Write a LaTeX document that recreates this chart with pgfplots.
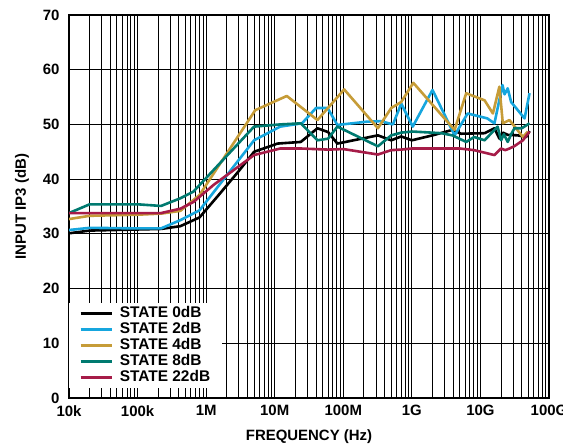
\documentclass[border=0pt]{standalone}
\usepackage{pgfplots}
\pgfplotsset{compat=1.18}
\usepackage{fontspec}
\setmainfont{Liberation Sans}
\definecolor{cblue}{RGB}{22,166,222}
\definecolor{cgold}{RGB}{198,156,56}
\definecolor{cteal}{RGB}{0,122,112}
\definecolor{cmag}{RGB}{166,28,72}
\begin{document}
\begin{tikzpicture}
\begin{axis}[
  scale only axis, width=480bp, height=383bp,
  xmode=log, xmin=1e4, xmax=1e11, ymin=0, ymax=70,
  ytick={0,10,...,70},
  xtick={1e4,1e5,1e6,1e7,1e8,1e9,1e10,1e11},
  xticklabels={10k,100k,1M,10M,100M,1G,10G,100G},
  /pgf/number format/assume math mode=true,
  tick label style={font=\fontsize{15}{17}\selectfont\bfseries},
  label style={font=\fontsize{15}{17}\selectfont\bfseries},
  yticklabel style={xshift=-6bp},
  xticklabel style={yshift=-4bp},
  xlabel={FREQUENCY (Hz)}, ylabel={INPUT IP3 (dB)},
  xlabel style={at={(axis description cs:0.5,-0.102)}, anchor=center},
  ylabel style={at={(axis description cs:-0.098,0.5)}, anchor=center},
  grid=both,
  major grid style={black, line width=1.2pt},
  minor grid style={black, line width=0.9pt},
  axis line style={black, line width=1.5pt},
  tick style={black, line width=0.9pt},
  tick align=inside, tick pos=left,
  major tick length=8bp, minor tick length=8bp,
  every axis plot/.append style={line width=2.6bp, line join=round},
  legend cell align=left,
  legend style={at={(axis description cs:0,0.026)}, anchor=south west, draw=none, fill=white,
    inner xsep=10bp, inner ysep=2.5bp,
    nodes={font=\fontsize{15.5}{16}\selectfont\bfseries, text height=11bp, text depth=3.5bp, inner ysep=0.75bp}},
  legend image code/.code={\draw[#1, line width=2.6bp] (0bp,0bp) -- (31bp,0bp); \path (36bp,0bp);},
]
% STATE 0dB
\addplot[black] coordinates {
(1e4,30.1) (2e4,30.6) (1e5,30.8) (2.2e5,30.9) (4.2e5,31.4) (8e5,33.0) (1.5e6,37.0) (3e6,41.5) (5e6,45.0)
(1.1e7,46.5) (2.4e7,46.8) (4.2e7,49.3) (6e7,48.6) (8.2e7,46.5) (3.2e8,48.0) (5e8,47.1) (7e8,47.8)
(1e9,47.1) (2e9,48.0) (3.9e9,49.0) (5.2e9,48.3) (1.15e10,48.4) (1.6e10,49.3) (1.89e10,47.4)
(2.12e10,48.5) (2.5e10,48.1) (3.5e10,48.0) (4.65e10,47.7) (5.2e10,48.8)};
% STATE 2dB
\addplot[cblue] coordinates {
(1e4,30.7) (2e4,31.1) (1e5,31.0) (2.2e5,31.0) (4.2e5,32.5) (8e5,34.3) (5e6,47.1)
(1.2e7,49.6) (2.5e7,50.2) (4e7,53.0) (5.9e7,53.0) (8.2e7,49.9) (2.2e8,50.5) (3.5e8,50.6) (5.3e8,50.0)
(7e8,53.8) (1.03e9,49.6) (2e9,56.3) (4.2e9,48.0) (6.5e9,52.0) (1.26e10,51.1) (1.6e10,50.2)
(2.1e10,57.2) (2.25e10,55.5) (2.5e10,56.6) (2.8e10,54.1) (4.4e10,51.1) (5.2e10,55.7)};
% STATE 4dB
\addplot[cgold] coordinates {
(1e4,32.7) (2e4,33.3) (1e5,33.5) (2.2e5,33.7) (4.2e5,34.2) (8e5,37.1) (5.2e6,52.6)
(1.5e7,55.2) (4.2e7,50.8) (1.03e8,56.4) (3.2e8,49.3) (5e8,53.0) (7e8,54.1) (1.05e9,57.6)
(4.2e9,49.0) (6.2e9,55.7) (1.15e10,54.4) (1.52e10,52.0) (1.89e10,56.9) (2.12e10,50.2) (2.65e10,50.8)
(4.17e10,47.7) (4.9e10,48.7)};
% STATE 8dB
\addplot[cteal] coordinates {
(1e4,33.8) (2e4,35.4) (1e5,35.4) (2.2e5,35.1) (4.2e5,36.5) (6.5e5,37.7) (5e6,49.6)
(1.2e7,50.0) (2.4e7,50.2) (4.2e7,47.1) (6e7,47.4) (8.2e7,49.6) (3.2e8,46.0) (5e8,48.0) (7e8,48.5)
(1.02e9,48.7) (2.7e9,48.4) (3.9e9,48.0) (6.2e9,46.8) (8.1e9,47.7) (1.15e10,47.1) (1.78e10,49.6)
(2e10,47.1) (2.2e10,48.2) (2.5e10,46.8) (2.8e10,48.2) (3.14e10,49.3) (4e10,49.3) (5.2e10,50.2)};
% STATE 22dB
\addplot[cmag] coordinates {
(1e4,33.8) (2e4,33.8) (1e5,33.8) (2.2e5,33.8) (4.2e5,34.6) (6.5e5,35.8) (1.3e6,39.0) (5e6,44.4)
(1.2e7,45.6) (2.4e7,45.6) (6e7,45.4) (1e8,45.5) (3.2e8,44.5) (5e8,45.3) (7e8,45.4) (1e9,45.6)
(5e9,45.6) (8.1e9,45.3) (1.6e10,44.4) (2e10,45.6) (2.3e10,45.3) (2.65e10,45.6) (3.1e10,46.0)
(4.17e10,47.1) (5.2e10,48.7)};
\legend{STATE 0dB, STATE 2dB, STATE 4dB, STATE 8dB, STATE 22dB}
\end{axis}
\pgfresetboundingbox
\useasboundingbox (-69bp,-48bp) rectangle (494bp,398bp);
\end{tikzpicture}
\end{document}
